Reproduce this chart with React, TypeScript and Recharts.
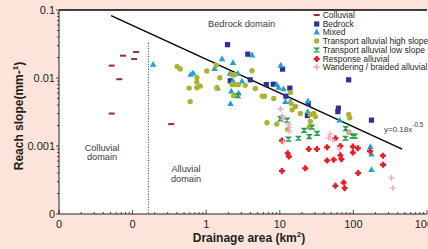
import React from 'react';
import { ScatterChart, Scatter, XAxis, YAxis, ReferenceLine } from 'recharts';

// drainage area (km2) vs reach slope
const colluvial = [
  { x: 0.052, y: 0.0152 }, { x: 0.074, y: 0.0213 }, { x: 0.112, y: 0.0241 }, { x: 0.105, y: 0.019 },
  { x: 0.066, y: 0.0096 }, { x: 0.052, y: 0.003 }, { x: 0.334, y: 0.0021 },
];
const bedrock = [
  { x: 1.95, y: 0.0309 }, { x: 3.67, y: 0.0224 }, { x: 10.9, y: 0.0135 }, { x: 3.97, y: 0.0094 },
  { x: 6.55, y: 0.008 }, { x: 8.16, y: 0.0081 }, { x: 13.7, y: 0.0071 }, { x: 12.1, y: 0.0054 },
  { x: 2.12, y: 0.0091 }, { x: 24.4, y: 0.0042 }, { x: 62.5, y: 0.0036 }, { x: 61.5, y: 0.0032 },
  { x: 86.3, y: 0.0094 }, { x: 176, y: 0.0024 }, { x: 23.7, y: 0.0028 },
];
const mixed = [
  { x: 0.19, y: 0.0159 }, { x: 0.615, y: 0.0113 }, { x: 0.665, y: 0.0119 }, { x: 1.3, y: 0.0138 },
  { x: 1.64, y: 0.0192 }, { x: 2.31, y: 0.0168 }, { x: 2.1, y: 0.0117 }, { x: 2.7, y: 0.0117 },
  { x: 2.31, y: 0.0091 }, { x: 3.06, y: 0.009 }, { x: 1.43, y: 0.0071 }, { x: 2.19, y: 0.0064 },
  { x: 2.75, y: 0.006 }, { x: 2.14, y: 0.0042 }, { x: 4.2, y: 0.0218 }, { x: 10.3, y: 0.0154 },
  { x: 9.1, y: 0.008 }, { x: 9.63, y: 0.0073 }, { x: 11.2, y: 0.0069 }, { x: 11.9, y: 0.0045 },
  { x: 13.9, y: 0.0045 }, { x: 24.2, y: 0.0046 }, { x: 23.9, y: 0.0032 }, { x: 65.1, y: 0.0024 },
  { x: 170, y: 0.00098 }, { x: 176, y: 0.00076 }, { x: 176, y: 0.00045 },
];
const transportHigh = [
  { x: 0.403, y: 0.0147 }, { x: 0.443, y: 0.0136 }, { x: 1.02, y: 0.0127 }, { x: 1.37, y: 0.0154 },
  { x: 1.53, y: 0.0101 }, { x: 0.747, y: 0.0102 }, { x: 0.747, y: 0.0087 }, { x: 0.829, y: 0.0076 },
  { x: 0.747, y: 0.0072 }, { x: 0.587, y: 0.0071 }, { x: 1.4, y: 0.0072 }, { x: 0.606, y: 0.0045 },
  { x: 2.24, y: 0.0112 }, { x: 2.43, y: 0.0112 }, { x: 2.24, y: 0.008 }, { x: 2.48, y: 0.008 },
  { x: 2.75, y: 0.008 }, { x: 2.35, y: 0.0055 }, { x: 4.19, y: 0.0128 }, { x: 3.39, y: 0.0078 },
  { x: 4.64, y: 0.007 }, { x: 5.78, y: 0.0054 }, { x: 6.21, y: 0.0054 }, { x: 8.28, y: 0.005 },
  { x: 13.9, y: 0.0061 }, { x: 14.3, y: 0.0042 }, { x: 16.3, y: 0.0038 }, { x: 14.7, y: 0.0034 },
  { x: 19, y: 0.003 }, { x: 26, y: 0.0029 }, { x: 28.8, y: 0.003 }, { x: 30.4, y: 0.0027 },
  { x: 26, y: 0.0023 }, { x: 25.2, y: 0.0019 }, { x: 86.3, y: 0.0029 }, { x: 89.1, y: 0.0026 },
  { x: 86.3, y: 0.0016 }, { x: 6.7, y: 0.0022 }, { x: 9.1, y: 0.0021 }, { x: 12.8, y: 0.00175 },
];
const transportLow = [
  { x: 2.7, y: 0.0055 }, { x: 10.2, y: 0.0025 }, { x: 12.6, y: 0.0024 }, { x: 21.4, y: 0.0017 },
  { x: 17.9, y: 0.0013 }, { x: 13.1, y: 0.00126 }, { x: 25.2, y: 0.00137 }, { x: 32.1, y: 0.00153 },
  { x: 27.4, y: 0.0019 }, { x: 78.5, y: 0.0018 }, { x: 77.8, y: 0.0013 }, { x: 96.9, y: 0.0014 },
  { x: 105, y: 0.0014 },
];
const response = [
  { x: 10.7, y: 0.0012 }, { x: 12.8, y: 0.00078 }, { x: 13.3, y: 0.0007 }, { x: 10.7, y: 0.00043 },
  { x: 22.2, y: 0.00047 }, { x: 24.7, y: 0.0009 }, { x: 31.9, y: 0.0009 }, { x: 43.9, y: 0.00096 },
  { x: 56.9, y: 0.0013 }, { x: 66.5, y: 0.001 }, { x: 43.9, y: 0.00061 }, { x: 54, y: 0.00063 },
  { x: 66.5, y: 0.00073 }, { x: 68.7, y: 0.00064 }, { x: 98.4, y: 0.00098 }, { x: 98.4, y: 0.0008 },
  { x: 115, y: 0.00093 }, { x: 168, y: 0.00084 }, { x: 252, y: 0.00072 }, { x: 253, y: 0.00053 },
  { x: 116, y: 0.0004 }, { x: 56.9, y: 0.00026 }, { x: 73.8, y: 0.00029 }, { x: 76.2, y: 0.00024 },
];
const wandering = [
  { x: 10.2, y: 0.0035 }, { x: 10.7, y: 0.0028 }, { x: 11.1, y: 0.00245 }, { x: 13.1, y: 0.0021 },
  { x: 13.3, y: 0.0019 }, { x: 13.5, y: 0.00166 }, { x: 11.3, y: 0.00116 }, { x: 48.6, y: 0.0015 },
  { x: 46.1, y: 0.00132 }, { x: 52.6, y: 0.00123 }, { x: 64.5, y: 0.00091 }, { x: 86.3, y: 0.00162 },
  { x: 329, y: 0.00034 }, { x: 343, y: 0.00024 },
];

// fitted power law y=0.18x^-0.5 as drawn, and the colluvial/alluvial boundary
const fitLine = [{ x: 0.051, y: 0.0825 }, { x: 460, y: 0.0009 }];
const boundary = [{ x: 0.164, y: 0.0327 }, { x: 0.164, y: 0.0001 }];

const xMajor = [0.01, 0.1, 1, 10, 100, 1000];
const xTickLabels = ['0', '0', '1', '10', '100', '1000'];
const yMajor = [0.0001, 0.001, 0.01, 0.1];
const yTickLabels = ['0', '0.001', '0.01', '0.1'];
const minorSteps = [2, 3, 4, 5, 6, 7, 8, 9];

const xTicks = [...xMajor, ...xMajor.slice(0, -1).flatMap((m) => minorSteps.map((k) => m * k))];
const yTicks = [...yMajor, ...yMajor.slice(0, -1).flatMap((m) => minorSteps.map((k) => m * k))];

const FONT = '"Liberation Sans", Arial, Helvetica, sans-serif';
const INK = '#231f20';

const C = {
  colluvial: '#9e2a32',
  bedrock: '#2e3192',
  mixed: '#1ea2cf',
  high: '#abb332',
  low: '#1a9e4c',
  response: '#ec1c28',
  wandering: '#f5a5b6',
};

const Dash = ({ cx, cy }: any) => <rect x={cx - 3} y={cy - 1} width={6} height={2} fill={C.colluvial} />;
const Square = ({ cx, cy }: any) => <rect x={cx - 2.6} y={cy - 2.6} width={5.2} height={5.2} fill={C.bedrock} />;
const Tri = ({ cx, cy }: any) => (
  <path d={`M${cx},${cy - 3.4}L${cx + 3.2},${cy + 2.4}L${cx - 3.2},${cy + 2.4}Z`} fill={C.mixed} />
);
const Dot = ({ cx, cy }: any) => <circle cx={cx} cy={cy} r={2.7} fill={C.high} />;
const Hourglass = ({ cx, cy }: any) => (
  <path
    d={`M${cx - 2},${cy - 2}H${cx + 2}L${cx - 2},${cy + 2}H${cx + 2}Z`}
    fill="none"
    stroke={C.low}
    strokeWidth={1.2}
  />
);
const BoldCross = ({ cx, cy }: any) => (
  <g>
    <path d={`M${cx - 3},${cy}H${cx + 3}M${cx},${cy - 3}V${cy + 3}`} stroke={C.response} strokeWidth={2.3} />
    <circle cx={cx} cy={cy} r={2} fill={C.response} />
  </g>
);
const Plus = ({ cx, cy }: any) => (
  <path d={`M${cx - 3},${cy}H${cx + 3}M${cx},${cy - 3}V${cy + 3}`} stroke={C.wandering} strokeWidth={1.3} />
);

const series = [
  { name: 'Colluvial', data: colluvial, Shape: Dash },
  { name: 'Bedrock', data: bedrock, Shape: Square },
  { name: 'Mixed', data: mixed, Shape: Tri },
  { name: 'Transport alluvial high slope', data: transportHigh, Shape: Dot },
  { name: 'Transport alluvial low slope', data: transportLow, Shape: Hourglass },
  { name: 'Response alluvial', data: response, Shape: BoldCross },
  { name: 'Wandering / braided alluvial', data: wandering, Shape: Plus },
];

const majorIndex = (list: number[], v: number) => list.findIndex((m) => Math.abs(m - v) < m * 1e-6);

const XTick = (p: any) => {
  const idx = majorIndex(xMajor, p.payload.value);
  return (
    <g>
      <line x1={p.x} x2={p.x} y1={p.y} y2={p.y - (idx >= 0 ? 4 : 2)} stroke={INK} strokeWidth={0.8} />
      {idx >= 0 && (
        <text x={p.x} y={p.y + 14} textAnchor="middle" fontSize={11} fill={INK} fontFamily={FONT}>
          {xTickLabels[idx]}
        </text>
      )}
    </g>
  );
};

const YTick = (p: any) => {
  const idx = majorIndex(yMajor, p.payload.value);
  return (
    <g>
      <line x1={p.x} x2={p.x - (idx >= 0 ? 3 : 2)} y1={p.y} y2={p.y} stroke={INK} strokeWidth={0.8} />
      {idx >= 0 && (
        <text x={p.x - 4} y={p.y + 4} textAnchor="end" fontSize={11} fill={INK} fontFamily={FONT}>
          {yTickLabels[idx]}
        </text>
      )}
    </g>
  );
};

const note: React.CSSProperties = { position: 'absolute', fontFamily: FONT, color: '#3a3a3a', whiteSpace: 'nowrap' };

export default function App() {
  return (
    <div
      style={{
        position: 'fixed', left: 0, top: 0, width: 428, height: 249,
        overflow: 'hidden', background: '#fce4da', fontFamily: FONT,
      }}
    >
      <div style={{ position: 'absolute', left: 59, top: 10, width: 369, height: 204, background: '#fff' }} />
      <ScatterChart
        width={470}
        height={249}
        margin={{ top: 10, right: 43, bottom: 15, left: 29 }}
        style={{ position: 'absolute', left: 0, top: 0 }}
      >
        <XAxis
          type="number" dataKey="x" scale="log" domain={[0.01, 1000]} allowDataOverflow
          ticks={xTicks} interval={0} tick={(p: any) => <XTick {...p} />} tickLine={false} tickSize={0} tickMargin={0}
          height={20} axisLine={{ stroke: INK, strokeWidth: 1 }}
        />
        <YAxis
          type="number" dataKey="y" scale="log" domain={[0.0001, 0.1]} allowDataOverflow
          ticks={yTicks} interval={0} tick={(p: any) => <YTick {...p} />} tickLine={false} tickSize={0} tickMargin={0}
          width={30} axisLine={{ stroke: INK, strokeWidth: 1 }}
        />
        <ReferenceLine y={0.1} stroke="#000" strokeWidth={1.4} ifOverflow="visible" />
        <ReferenceLine segment={boundary} stroke="#333" strokeWidth={1} strokeDasharray="1 1.6" ifOverflow="visible" />
        <ReferenceLine segment={fitLine} stroke="#000" strokeWidth={1.4} ifOverflow="visible" />
        {series.map(({ name, data, Shape }) => (
          <Scatter
            key={name}
            name={name}
            data={data}
            isAnimationActive={false}
            shape={(p: any) => <Shape cx={p.cx} cy={p.cy} />}
          />
        ))}
      </ScatterChart>

      {/* legend */}
      {series.map(({ name, Shape }, i) => (
        <div key={name} style={{ position: 'absolute', left: 311, top: 15 + i * 8.7 - 5, height: 10, width: 130 }}>
          <svg width={11} height={10} style={{ position: 'absolute', left: 0, top: 0 }}>
            <Shape cx={5.7} cy={5} />
          </svg>
          <div style={{ ...note, color: INK, left: 11.7, top: 0, fontSize: 8.5, lineHeight: '10px' }}>{name}</div>
        </div>
      ))}

      <div style={{ ...note, left: 208, top: 18, fontSize: 9.3, lineHeight: '12px' }}>Bedrock domain</div>
      <div style={{ ...note, left: 72, top: 144, width: 60, textAlign: 'center', fontSize: 9.2, lineHeight: '8.8px' }}>
        Colluvial<br />domain
      </div>
      <div style={{ ...note, left: 156, top: 165.3, width: 60, textAlign: 'center', fontSize: 9.2, lineHeight: '9.3px' }}>
        Alluvial<br />domain
      </div>
      <div style={{ ...note, left: 384, top: 125, fontSize: 8, lineHeight: '10px' }}>
        y=0.18x<span style={{ fontSize: 6.5, position: 'relative', top: -5 }}>-0.5</span>
      </div>

      <div
        style={{
          position: 'absolute', left: 149, top: 230, width: 200, lineHeight: '16px', textAlign: 'center',
          fontSize: 12, fontWeight: 'bold', color: INK, whiteSpace: 'nowrap',
        }}
      >
        Drainage area (km<span style={{ fontSize: 8, position: 'relative', top: -5 }}>2</span>)
      </div>
      <div
        style={{
          position: 'absolute', left: -60, top: 107, width: 160, lineHeight: '16px', textAlign: 'center',
          fontSize: 12, fontWeight: 'bold', color: INK, whiteSpace: 'nowrap', transform: 'rotate(-90deg)',
        }}
      >
        Reach slope(mm-<span style={{ fontSize: 8, position: 'relative', top: -5 }}>1</span>)
      </div>
    </div>
  );
}
